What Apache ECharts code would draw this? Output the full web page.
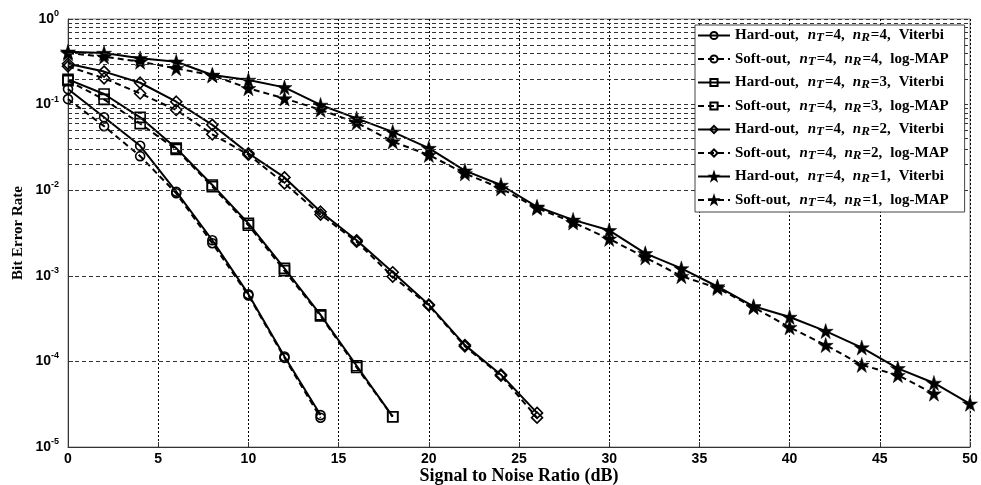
<!DOCTYPE html>
<html>
<head>
<meta charset="utf-8">
<script src="https://cdn.jsdelivr.net/npm/echarts@6/dist/echarts.min.js"></script>
<style>
  html, body { margin: 0; padding: 0; background: #fff; }
  #chart { width: 981px; height: 485px; }
</style>
</head>
<body>
<div id="chart"></div>
<script>
// SNR (dB) grids
var snr4 = [0, 2, 4, 6, 8, 10, 12, 14];
var snr3 = [0, 2, 4, 6, 8, 10, 12, 14, 16, 18];
var snr2 = [0, 2, 4, 6, 8, 10, 12, 14, 16, 18, 20, 22, 24, 26];
var snr1 = [0, 2, 4, 6, 8, 10, 12, 14, 16, 18, 20, 22, 24, 26, 28, 30, 32, 34, 36, 38, 40, 42, 44, 46, 48, 50];

// BER
var hard4 = [0.152, 0.071, 0.033, 0.0096, 0.0026, 0.00061, 0.000114, 0.0000236];
var soft4 = [0.116, 0.056, 0.025, 0.0092, 0.0024, 0.00059, 0.000110, 0.000022];
var hard3 = [0.197, 0.133, 0.071, 0.031, 0.0115, 0.0041, 0.00122, 0.00035, 0.000089, 0.0000226];
var soft3 = [0.19, 0.115, 0.060, 0.030, 0.011, 0.0039, 0.00115, 0.00034, 0.000085, 0.0000226];
var hard2 = [0.30, 0.243, 0.18, 0.108, 0.058, 0.027, 0.0141, 0.0056, 0.0026, 0.0011, 0.00046, 0.000155, 0.00007, 0.000025];
var soft2 = [0.28, 0.203, 0.135, 0.0865, 0.045, 0.026, 0.012, 0.0052, 0.0025, 0.00098, 0.00045, 0.00015, 0.000068, 0.000022];
var hard1 = [0.415, 0.40, 0.347, 0.317, 0.222, 0.194, 0.159, 0.099, 0.069, 0.048, 0.031, 0.0169, 0.0115, 0.0064, 0.0045, 0.0034,
             0.00183, 0.00122, 0.00075, 0.00044, 0.00033, 0.000226, 0.000145, 0.000083, 0.000056, 0.000032];
var soft1 = [0.40, 0.363, 0.317, 0.265, 0.22, 0.155, 0.118, 0.087, 0.0615, 0.037, 0.0258, 0.0157, 0.0105, 0.0062, 0.0042, 0.0027,
             0.00164, 0.00099, 0.00072, 0.00043, 0.00025, 0.000155, 0.000091, 0.000069, 0.000042];

var names = [
  'Hard-out, nT=4, nR=4, Viterbi',
  'Soft-out, nT=4, nR=4, log-MAP',
  'Hard-out, nT=4, nR=3, Viterbi',
  'Soft-out, nT=4, nR=3, log-MAP',
  'Hard-out, nT=4, nR=2, Viterbi',
  'Soft-out, nT=4, nR=2, log-MAP',
  'Hard-out, nT=4, nR=1, Viterbi',
  'Soft-out, nT=4, nR=1, log-MAP'
];

var STAR = 'path://M50,0L61.2,34.6L97.6,34.5L68.1,55.9L79.4,90.5L50,69L20.6,90.5L31.9,55.9L2.4,34.5L38.8,34.6Z';
var SERIF = 'Liberation Serif';

function pairs(xs, ys) {
  return ys.map(function (v, i) { return [xs[i], v]; });
}

function mkSeries(name, xs, ys, symbol, size, dashed, filled) {
  return {
    name: name,
    type: 'line',
    data: pairs(xs, ys),
    symbol: symbol,
    symbolSize: size,
    showAllSymbol: true,
    lineStyle: { color: '#000', width: 2, type: dashed ? [6, 4] : 'solid' },
    itemStyle: {
      color: filled ? '#000' : 'rgba(0,0,0,0)',
      borderColor: '#000',
      borderWidth: filled ? 0.5 : 1.6
    },
    z: 3
  };
}

// minor log grid lines 2..9 x 10^d
var minorLines = [];
for (var d = -5; d < 0; d++) {
  for (var k = 2; k <= 9; k++) {
    minorLines.push({ yAxis: k * Math.pow(10, d) });
  }
}

var chart = echarts.init(document.getElementById('chart'));

var option = {
  animation: false,
  backgroundColor: '#fff',
  grid: {
    left: 68, right: 11, top: 19, bottom: 38,
    outerBoundsMode: 'none',
    containLabel: false,
    show: true, borderColor: '#888', borderWidth: 1
  },
  legend: {
    data: names,
    orient: 'vertical',
    left: 695,
    top: 25,
    z: 20,
    itemWidth: 32,
    itemHeight: 9,
    itemGap: 7,
    padding: [3, 16, 3, 2],
    backgroundColor: '#fff',
    borderColor: '#444',
    borderWidth: 1,
    formatter: function (n) {
      var m = n.match(/^(.*?), nT=(\d), nR=(\d), (.*)$/);
      return '{t|' + m[1] + ',}{i0|n}{s|T}{e|=' + m[2] + ',}{i|n}{s|R}{e|=' + m[3] + ',}{t|' + m[4] + '}';
    },
    textStyle: {
      color: '#000',
      fontFamily: SERIF,
      fontWeight: 'bold',
      fontSize: 15,
      rich: {
        t: { fontFamily: SERIF, fontWeight: 'bold', fontSize: 15, lineHeight: 18, color: '#000' },
        e: { fontFamily: SERIF, fontWeight: 'bold', fontSize: 15, lineHeight: 18, color: '#000', padding: [0, 8, 0, 1] },
        i0: { fontFamily: SERIF, fontWeight: 'bold', fontStyle: 'italic', fontSize: 15, lineHeight: 18, color: '#000', padding: [0, 0, 0, 9] },
        i: { fontFamily: SERIF, fontWeight: 'bold', fontStyle: 'italic', fontSize: 15, lineHeight: 18, color: '#000' },
        s: { fontFamily: SERIF, fontWeight: 'bold', fontStyle: 'italic', fontSize: 13, lineHeight: 9, verticalAlign: 'bottom', color: '#000' }
      }
    }
  },
  xAxis: {
    type: 'value',
    min: 0, max: 50, interval: 5,
    name: 'Signal to Noise Ratio (dB)',
    nameLocation: 'middle',
    nameMoveOverlap: false,
    nameGap: 20,
    nameTextStyle: { fontFamily: SERIF, fontWeight: 'bold', fontSize: 18, color: '#000' },
    axisLine: { lineStyle: { color: '#333', width: 1 } },
    axisTick: { inside: true, length: 5, lineStyle: { color: '#333' } },
    axisLabel: { margin: 5, color: '#000', fontFamily: 'Liberation Sans', fontWeight: 'bold', fontSize: 14 },
    splitLine: { show: true, lineStyle: { color: '#000', width: 1, type: [2, 2] } }
  },
  yAxis: {
    type: 'log',
    min: 1e-5, max: 1,
    logBase: 10,
    name: 'Bit Error Rate',
    nameLocation: 'middle',
    nameMoveOverlap: false,
    nameGap: 42,
    nameTextStyle: { fontFamily: SERIF, fontWeight: 'bold', fontSize: 15, color: '#000' },
    axisLine: { show: true, lineStyle: { color: '#333', width: 1 } },
    axisTick: { inside: true, length: 5, lineStyle: { color: '#333' } },
    axisLabel: {
      margin: 9,
      formatter: function (v) {
        var e = Math.round(Math.log(v) / Math.LN10);
        return '{b|10}{p|' + e + '}';
      },
      rich: {
        b: { fontFamily: 'Liberation Sans', fontWeight: 'bold', fontSize: 14, lineHeight: 20, color: '#000' },
        p: { fontFamily: 'Liberation Sans', fontWeight: 'bold', fontSize: 9, lineHeight: 9, verticalAlign: 'top', color: '#000' }
      }
    },
    splitLine: { show: true, lineStyle: { color: '#333', width: 1, type: [4, 3] } }
  },
  series: [
    {
      name: 'grid-minor',
      type: 'line',
      data: [],
      silent: true,
      z: 1,
      markLine: {
        silent: true,
        symbol: 'none',
        label: { show: false },
        animation: false,
        lineStyle: { color: '#333', width: 1, type: [4, 3] },
        data: minorLines
      }
    },
    mkSeries(names[0], snr4, hard4, 'circle', 9, false, false),
    mkSeries(names[1], snr4, soft4, 'circle', 9, true, false),
    mkSeries(names[2], snr3, hard3, 'rect', 10, false, false),
    mkSeries(names[3], snr3, soft3, 'rect', 10, true, false),
    mkSeries(names[4], snr2, hard2, 'diamond', 11, false, false),
    mkSeries(names[5], snr2, soft2, 'diamond', 11, true, false),
    mkSeries(names[6], snr1, hard1, STAR, 15, false, true),
    mkSeries(names[7], snr1, soft1, STAR, 15, true, true)
  ]
};

chart.setOption(option);
</script>
</body>
</html>
